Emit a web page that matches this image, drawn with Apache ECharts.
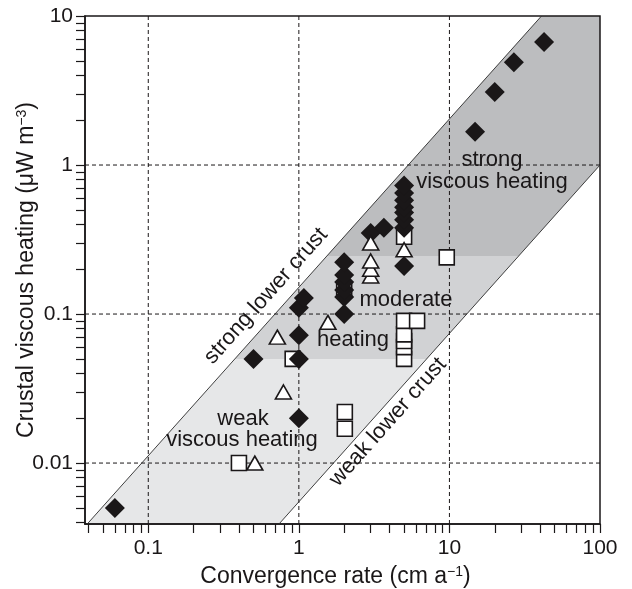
<!DOCTYPE html>
<html><head><meta charset="utf-8">
<script src="https://cdn.jsdelivr.net/npm/echarts@6/dist/echarts.min.js"></script>
<style>html,body{margin:0;padding:0;background:#fff}#c{width:632px;height:589px}</style>
</head><body><div id="c"></div>
<script>
// ---- axis ranges and ticks ----
const xRange = [0.038, 100];
const yRange = [0.0039, 10];
const xTickValues = [0.04,0.05,0.06,0.07,0.08,0.09,0.1,0.2,0.3,0.4,0.5,0.6,0.7,0.8,0.9,1,2,3,4,5,6,7,8,9,10,20,30,40,50,60,70,80,90,100];
const yTickValues = [0.004,0.005,0.006,0.007,0.008,0.009,0.01,0.02,0.03,0.04,0.05,0.06,0.07,0.08,0.09,0.1,0.2,0.3,0.4,0.5,0.6,0.7,0.8,0.9,1,2,3,4,5,6,7,8,9,10];
const xLabelValues = [0.1, 1, 10, 100];
const xLabelTexts = ['0.1', '1', '10', '100'];
const yLabelValues = [0.01, 0.1, 1, 10];
const yLabelTexts = ['0.01', '0.1', '1', '10'];
const xGridValues = [0.1, 1, 10];
const yGridValues = [0.01, 0.1, 1];

// ---- band boundary lines (log-log straight lines: y = y0 * (x/x0)^slope) ----
const strongCrustLine = [0.1, 0.0112, 1.13];   // [x0, y0, slope]
const weakCrustLine = [100, 1, 1.13];          // [x0, y0, slope]
const bandLevels = [0.0039, 0.05, 0.245, 10];  // heating level limits of the shaded zones

// ---- data ----
const diamondX = [0.06, 0.5, 1.0, 1.0, 1.0, 1.0, 1.08, 2.0, 2.0, 2.0, 2.0, 2.0, 2.0, 3.0, 3.67, 5.0, 5.0, 5.0, 5.0, 5.0, 5.0, 5.0, 5.0, 14.8, 20, 26.8, 42.5];
const diamondY = [0.005, 0.05, 0.02, 0.05, 0.072, 0.11, 0.128, 0.10, 0.13, 0.145, 0.164, 0.183, 0.223, 0.35, 0.38, 0.21, 0.38, 0.43, 0.48, 0.52, 0.58, 0.65, 0.73, 1.67, 3.09, 4.9, 6.7];
const squareX = [0.4, 0.91, 2.02, 2.02, 2.0, 5.0, 5.0, 5.0, 5.0, 5.0, 6.1, 5.0, 9.6];
const squareY = [0.01, 0.05, 0.017, 0.022, 0.145, 0.05, 0.06, 0.066, 0.073, 0.09, 0.09, 0.33, 0.24];
const triangleX = [0.51, 0.79, 0.72, 1.56, 3.0, 3.0, 3.0, 3.0, 5.0];
const triangleY = [0.01, 0.03, 0.07, 0.088, 0.18, 0.20, 0.227, 0.30, 0.27];

// ---- styles ----
const INK = '#1a1718';
const FONT = '"Liberation Sans", Arial, Helvetica, sans-serif';
const bandColors = ['#e6e7e8', '#d1d2d4', '#bcbdbf'];

function zip(a, b) { return a.map((v, i) => [v, b[i]]); }
function xOnLine(line, y) { return line[0] * Math.pow(y / line[1], 1 / line[2]); }

function clipPoly(pts, r) {
  const edges = [
    p => p[0] >= r.x, p => p[0] <= r.x + r.width,
    p => p[1] >= r.y, p => p[1] <= r.y + r.height
  ];
  const inter = [
    (a, b) => { const t = (r.x - a[0]) / (b[0] - a[0]); return [r.x, a[1] + t * (b[1] - a[1])]; },
    (a, b) => { const X = r.x + r.width; const t = (X - a[0]) / (b[0] - a[0]); return [X, a[1] + t * (b[1] - a[1])]; },
    (a, b) => { const t = (r.y - a[1]) / (b[1] - a[1]); return [a[0] + t * (b[0] - a[0]), r.y]; },
    (a, b) => { const Y = r.y + r.height; const t = (Y - a[1]) / (b[1] - a[1]); return [a[0] + t * (b[0] - a[0]), Y]; }
  ];
  let out = pts;
  for (let e = 0; e < 4; e++) {
    const inp = out; out = [];
    for (let i = 0; i < inp.length; i++) {
      const cur = inp[i], prev = inp[(i + inp.length - 1) % inp.length];
      const ci = edges[e](cur), pi = edges[e](prev);
      if (ci) { if (!pi) out.push(inter[e](prev, cur)); out.push(cur); }
      else if (pi) out.push(inter[e](prev, cur));
    }
    if (!out.length) break;
  }
  return out;
}

function clipSeg(a, b, r) {
  let t0 = 0, t1 = 1;
  const dx = b[0] - a[0], dy = b[1] - a[1];
  const p = [-dx, dx, -dy, dy];
  const q = [a[0] - r.x, r.x + r.width - a[0], a[1] - r.y, r.y + r.height - a[1]];
  for (let i = 0; i < 4; i++) {
    if (p[i] === 0) { if (q[i] < 0) return null; continue; }
    const t = q[i] / p[i];
    if (p[i] < 0) { if (t > t1) return null; if (t > t0) t0 = t; }
    else { if (t < t0) return null; if (t < t1) t1 = t; }
  }
  return [[a[0] + t0 * dx, a[1] + t0 * dy], [a[0] + t1 * dx, a[1] + t1 * dy]];
}

const chart = echarts.init(document.getElementById('c'), null, {renderer: 'canvas'});

function labelFmt(values, texts) {
  return function (v) {
    for (let i = 0; i < values.length; i++) {
      if (Math.abs(Math.log10(v) - Math.log10(values[i])) < 1e-6) return texts[i];
    }
    return '';
  };
}

const bandData = [];
for (let i = 0; i < bandLevels.length - 1; i++) bandData.push([bandLevels[i], bandLevels[i + 1]]);
const lineData = [strongCrustLine, weakCrustLine];

function textEl(x, y, str, rot) {
  return {type: 'text', x: x, y: y, z: 10, rotation: rot || 0,
    style: {text: str, fontSize: 22, fontFamily: FONT, fill: INK, textAlign: 'center', textVerticalAlign: 'middle', verticalAlign: 'middle'}};
}
const ROT = 48.35 * Math.PI / 180;

const option = {
  animation: false,
  grid: {left: 85, right: 32, top: 16, bottom: 65, show: true, borderColor: INK, borderWidth: 1.5, backgroundColor: 'transparent', containLabel: false, outerBoundsMode: 'none'},
  xAxis: {
    type: 'log', logBase: 10, min: xRange[0], max: xRange[1],
    axisLine: {show: true, lineStyle: {color: INK, width: 1.5}},
    axisTick: {show: true, inside: false, length: 9, lineStyle: {color: INK, width: 1.2}, customValues: xTickValues},
    minorTick: {show: false},
    axisLabel: {show: true, customValues: xLabelValues, formatter: labelFmt(xLabelValues, xLabelTexts), margin: 14, fontSize: 21, color: INK, fontFamily: FONT},
    splitLine: {show: false},
    name: 'Convergence rate (cm a{sup|−1})',
    nameLocation: 'middle', nameGap: 41, nameMoveOverlap: false,
    nameTextStyle: {fontSize: 23, color: INK, fontFamily: FONT, padding: [0, 14, 0, 0],
      rich: {sup: {fontSize: 14, verticalAlign: 'top', color: INK, fontFamily: FONT}}}
  },
  yAxis: {
    type: 'log', logBase: 10, min: yRange[0], max: yRange[1],
    axisLine: {show: true, lineStyle: {color: INK, width: 1.5}},
    axisTick: {show: true, inside: false, length: 9, lineStyle: {color: INK, width: 1.2}, customValues: yTickValues},
    minorTick: {show: false},
    axisLabel: {show: true, customValues: yLabelValues, formatter: labelFmt(yLabelValues, yLabelTexts), margin: 12, fontSize: 21, color: INK, fontFamily: FONT},
    splitLine: {show: false},
    name: 'Crustal viscous heating (μW m{sup|−3})',
    nameLocation: 'middle', nameGap: 47, nameRotate: 90, nameMoveOverlap: false,
    nameTextStyle: {fontSize: 23, color: INK, fontFamily: FONT,
      rich: {sup: {fontSize: 14, verticalAlign: 'top', color: INK, fontFamily: FONT}}}
  },
  series: [
    {
      type: 'custom', z: -2, silent: true,
      data: bandData, encode: {x: 0, y: 1},
      renderItem: function (params, api) {
        const lo = api.value(0), hi = api.value(1);
        const pts = [
          api.coord([xOnLine(strongCrustLine, lo), lo]),
          api.coord([xOnLine(weakCrustLine, lo), lo]),
          api.coord([xOnLine(weakCrustLine, hi), hi]),
          api.coord([xOnLine(strongCrustLine, hi), hi])
        ];
        const c = clipPoly(pts, params.coordSys);
        return {type: 'polygon', shape: {points: c}, style: {fill: bandColors[params.dataIndex], stroke: null}};
      }
    },
    {
      type: 'custom', z: -1, silent: true,
      data: xGridValues.map(v => [v, yRange[0]]), encode: {x: 0, y: 1},
      renderItem: function (params, api) {
        const v = api.value(0);
        const a = api.coord([v, yRange[0]]), b = api.coord([v, yRange[1]]);
        return {type: 'line', shape: {x1: a[0], y1: a[1], x2: b[0], y2: b[1]}, style: {stroke: INK, lineWidth: 1, lineDash: [4, 3]}};
      }
    },
    {
      type: 'custom', z: -1, silent: true,
      data: yGridValues.map(v => [xRange[0], v]), encode: {x: 0, y: 1},
      renderItem: function (params, api) {
        const v = api.value(1);
        const a = api.coord([xRange[0], v]), b = api.coord([xRange[1], v]);
        return {type: 'line', shape: {x1: a[0], y1: a[1], x2: b[0], y2: b[1]}, style: {stroke: INK, lineWidth: 1, lineDash: [4, 3]}};
      }
    },
    {
      type: 'custom', z: 1, silent: true,
      data: lineData, encode: {x: 0, y: 1},
      renderItem: function (params, api) {
        const line = lineData[params.dataIndex];
        const a = api.coord([xOnLine(line, yRange[0]), yRange[0]]);
        const b = api.coord([xOnLine(line, yRange[1]), yRange[1]]);
        const s = clipSeg(a, b, params.coordSys);
        if (!s) return null;
        return {type: 'line', shape: {x1: s[0][0], y1: s[0][1], x2: s[1][0], y2: s[1][1]}, style: {stroke: '#2a2a2a', lineWidth: 0.9}};
      }
    },
    {
      type: 'scatter', z: 3, data: zip(squareX, squareY), symbol: 'rect', symbolSize: 15,
      itemStyle: {color: '#fff', borderColor: INK, borderWidth: 1.6, opacity: 1}, emphasis: {disabled: true}
    },
    {
      type: 'scatter', z: 4, data: zip(diamondX, diamondY), symbol: 'diamond', symbolSize: 20,
      itemStyle: {color: INK, opacity: 1}, emphasis: {disabled: true}
    },
    {
      type: 'scatter', z: 5, data: zip(triangleX, triangleY), symbol: 'triangle', symbolSize: [16, 14],
      itemStyle: {color: '#fff', borderColor: INK, borderWidth: 1.6, opacity: 1}, emphasis: {disabled: true}
    }
  ],
  graphic: [
    textEl(492, 160, 'strong'),
    textEl(492, 182, 'viscous heating'),
    textEl(406, 300, 'moderate'),
    textEl(353, 340, 'heating'),
    textEl(243, 419, 'weak'),
    textEl(242, 440, 'viscous heating'),
    textEl(266, 296, 'strong lower crust', ROT),
    textEl(388, 422, 'weak lower crust', ROT)
  ]
};
chart.setOption(option);
</script>
</body></html>
